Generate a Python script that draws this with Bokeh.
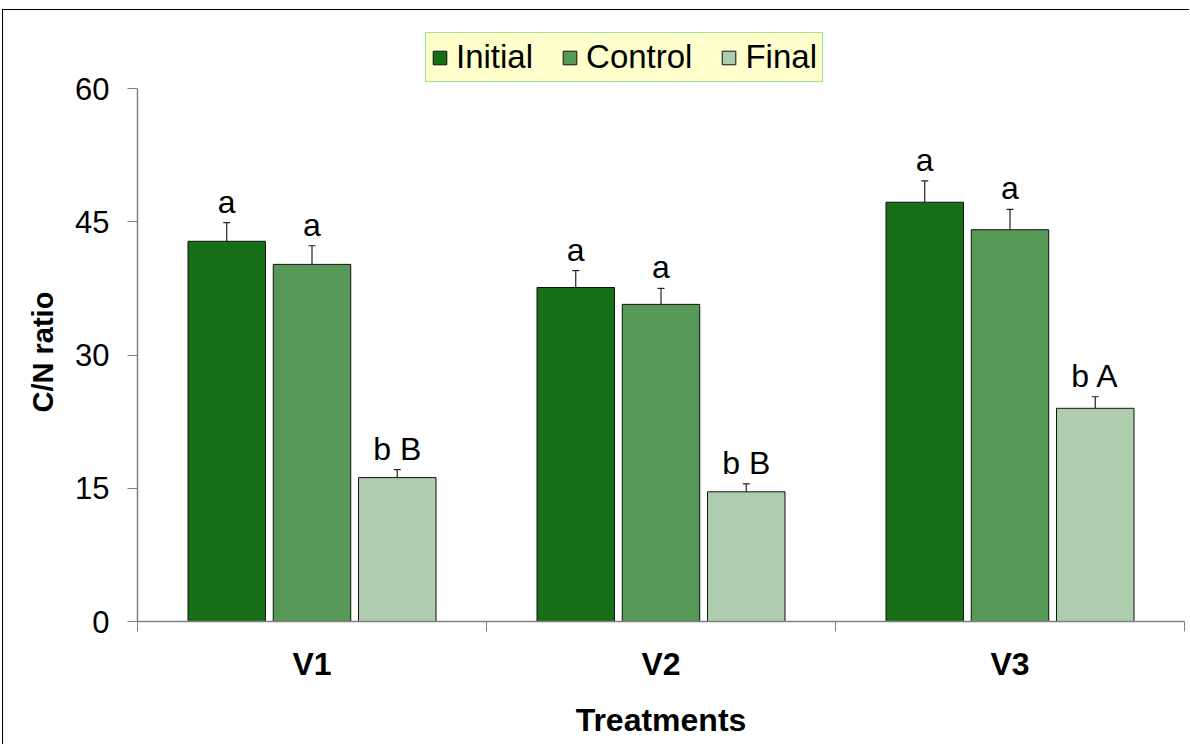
from bokeh.plotting import figure
from bokeh.models import (ColumnDataSource, Range1d, FixedTicker, Legend, LegendItem,
                          Whisker, TeeHead, Title)
from bokeh.core.properties import value
from bokeh.embed import file_html
from bokeh.resources import INLINE

# ---- data ----
categories = ["V1", "V2", "V3"]
series_names = ["Initial", "Control", "Final"]
initial = [42.8, 37.6, 47.2]
initial_err = [2.1, 1.9, 2.4]
control = [40.2, 35.7, 44.1]
control_err = [2.1, 1.8, 2.3]
final = [16.2, 14.6, 24.0]
final_err = [0.9, 0.9, 1.3]
initial_letters = ["a", "a", "a"]
control_letters = ["a", "a", "a"]
final_letters = ["b B", "b B", "b A"]
y_ticks = [0, 15, 30, 45, 60]
y_label = "C/N ratio"
x_label = "Treatments"

colors = ["#166F16", "#569956", "#AECDAE"]
FONT = "Liberation Sans"

# layout: y axis 0..60 spans 533 px; frame extends above it to hold the legend
Y_MAX = 60
frame_top_px = 10
frame_bottom_px = 611
axis_px = 533
y_end = Y_MAX * (frame_bottom_px - frame_top_px) / axis_px

p = figure(width=1187, height=735, output_backend="svg", toolbar_location=None,
           x_range=Range1d(0, len(categories)), y_range=Range1d(0, y_end),
           min_border_left=134, min_border_right=6, min_border_top=frame_top_px,
           min_border_bottom=735 - frame_bottom_px)
p.styles = {"border-top": "1px solid black", "border-left": "1px solid black",
            "margin-top": "9px", "margin-left": "2px"}
p.background_fill_color = "white"
p.border_fill_color = "white"
p.outline_line_color = None
p.xgrid.visible = False
p.ygrid.visible = False

offsets = [-0.2443, 0.0, 0.2443]
bar_w = 0.222
all_vals = [initial, control, final]
all_errs = [initial_err, control_err, final_err]
all_letters = [initial_letters, control_letters, final_letters]

items = []
for k, name in enumerate(series_names):
    xs = [i + 0.5 + offsets[k] for i in range(len(categories))]
    vals = all_vals[k]
    errs = all_errs[k]
    src = ColumnDataSource(dict(
        x=xs, top=vals, up=[v + e for v, e in zip(vals, errs)],
        lab=all_letters[k]))
    r = p.vbar(x="x", top="top", width=bar_w, bottom=0, source=src,
               fill_color=colors[k], line_color="#111111", line_width=1)
    items.append(LegendItem(label=name, renderers=[r]))
    w = Whisker(base="x", lower="top", upper="up", source=src,
                line_color="#222222", line_width=1.2,
                lower_head=None,
                upper_head=TeeHead(size=7, line_color="#222222", line_width=1.2))
    p.add_layout(w)
    p.text(x="x", y="up", text="lab", source=src, text_align="center",
           text_baseline="alphabetic", y_offset=-21,
           text_font=value(FONT), text_font_size="32px", text_color="black")

# ---- axes ----
xa = p.xaxis[0]
xa.ticker = FixedTicker(ticks=[i + 0.5 for i in range(len(categories))],
                        minor_ticks=list(range(len(categories) + 1)))
xa.major_label_overrides = {i + 0.5: c for i, c in enumerate(categories)}
xa.major_tick_out = 0
xa.major_tick_in = 0
xa.minor_tick_out = 10
xa.minor_tick_in = 0
xa.minor_tick_line_color = "#808080"
xa.axis_line_color = "#808080"
xa.axis_line_width = 1.5
xa.major_label_text_font = FONT
xa.major_label_text_font_size = "32px"
xa.major_label_text_font_style = "bold"
xa.major_label_text_color = "black"
xa.major_label_standoff = 14
xa.axis_label = x_label
xa.axis_label_text_font = FONT
xa.axis_label_text_font_size = "32px"
xa.axis_label_text_font_style = "bold"
xa.axis_label_text_color = "black"
xa.axis_label_standoff = 17

ya = p.yaxis[0]
ya.ticker = FixedTicker(ticks=y_ticks, minor_ticks=[])
ya.bounds = (0, Y_MAX)
ya.major_tick_out = 10
ya.major_tick_in = 0
ya.major_tick_line_color = "#808080"
ya.axis_line_color = "#808080"
ya.axis_line_width = 1.5
ya.major_label_text_font = FONT
ya.major_label_text_font_size = "31px"
ya.major_label_text_color = "black"
ya.major_label_standoff = 18

# y-axis title, centred on the 0..60 part of the axis
ytitle = Title(text=y_label, align="left", offset=209, standoff=27,
               text_font=FONT, text_font_size="29px", text_font_style="bold",
               text_color="black")
p.add_layout(ytitle, "left")

# ---- legend ----
legend = Legend(items=items, orientation="horizontal", location=(288, 539),
                background_fill_color="#FFFFCC", background_fill_alpha=1,
                border_line_color="#33CC66", border_line_width=1.5,
                label_text_font=FONT, label_text_font_size="33px",
                label_text_color="black",
                glyph_width=17, glyph_height=17, label_standoff=8,
                spacing=28, padding=5, margin=0)
p.add_layout(legend, "center")

open("out.html", "w").write(file_html(p, INLINE))
